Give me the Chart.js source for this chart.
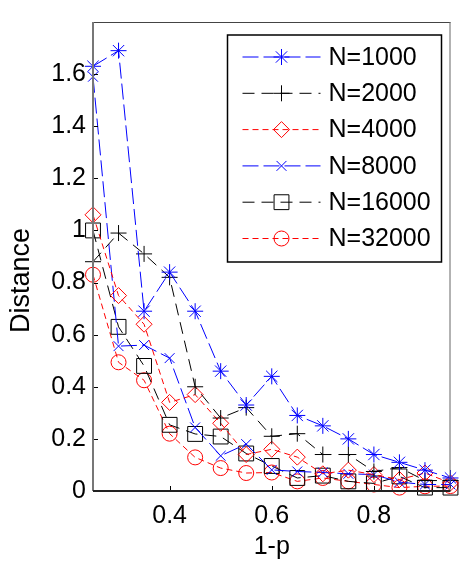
<!DOCTYPE html>
<html><head><meta charset="utf-8">
<script src="https://cdn.jsdelivr.net/npm/chart.js@4/dist/chart.umd.min.js"></script>
<style>html,body{margin:0;padding:0;background:#fff;}canvas{display:block;}</style>
</head><body>
<canvas id="c" width="462" height="568"></canvas>
<script>
// ---- data ----
const xValues = [0.25,0.30,0.35,0.40,0.45,0.50,0.55,0.60,0.65,0.70,0.75,0.80,0.85,0.90,0.95];
const seriesNames = ['N=1000','N=2000','N=4000','N=8000','N=16000','N=32000'];
const n1000  = [1.63,1.69,0.69,0.84,0.69,0.46,0.33,0.44,0.29,0.25,0.20,0.14,0.11,0.08,0.05];
const n2000  = [0.88,0.99,0.91,0.82,0.40,0.28,0.32,0.21,0.22,0.14,0.14,0.075,0.09,0.04,0.04];
const n4000  = [1.06,0.75,0.64,0.34,0.37,0.26,0.14,0.16,0.13,0.066,0.08,0.063,0.044,0.069,0.031];
const n8000  = [1.59,0.556,0.56,0.51,0.244,0.135,0.18,0.081,0.075,0.071,0.066,0.063,0.034,0.025,0.025];
const n16000 = [1.00,0.63,0.48,0.254,0.219,0.209,0.144,0.096,0.05,0.059,0.037,0.029,0.056,0.013,0.013];
const n32000 = [0.83,0.494,0.425,0.22,0.129,0.088,0.069,0.071,0.037,0.05,0.037,0.025,0.013,0.018,0.019];
const xTickValues = [0.4,0.6,0.8];
const yTickValues = [0,0.2,0.4,0.6,0.8,1.0,1.2,1.4,1.6];
const xTitle = '1-p';
const yTitle = 'Distance';

const FONT = '"Liberation Sans", Arial, Helvetica, sans-serif';
const toPts = arr => arr.map((v,i)=>({x:xValues[i], y:v}));

const styles = [
  {color:'#0000ff', dash:[16,5], point:'star',     radius:8},
  {color:'#000000', dash:[12,7], point:'cross',    radius:8},
  {color:'#ff0000', dash:[6,4],  point:'rectRot',  radius:8},
  {color:'#0000ff', dash:[16,5], point:'crossRot', radius:7},
  {color:'#000000', dash:[12,7], point:'rect',     radius:10.5},
  {color:'#ff0000', dash:[6,4],  point:'circle',   radius:7.5}
];
const allSeries = [n1000,n2000,n4000,n8000,n16000,n32000];

const datasets = allSeries.map((s,i)=>({
  label: seriesNames[i],
  data: toPts(s),
  borderColor: styles[i].color,
  borderWidth: 1,
  borderDash: styles[i].dash,
  pointStyle: styles[i].point,
  pointRadius: styles[i].radius,
  pointHoverRadius: styles[i].radius,
  pointBorderColor: styles[i].color,
  pointBackgroundColor: 'rgba(0,0,0,0)',
  pointBorderWidth: 1,
  fill: false,
  tension: 0,
  clip: false
}));

function drawMarker(ctx, style, radius, x, y){
  if (Chart.helpers && Chart.helpers.drawPoint) {
    Chart.helpers.drawPoint(ctx, {pointStyle: style, radius: radius, borderWidth: 1, rotation: 0}, x, y);
  }
}

const framePlugin = {
  id: 'frame',
  afterDatasetsDraw(chart){
    const {ctx, chartArea:a, scales} = chart;
    ctx.save();
    ctx.setLineDash([]);
    // inward ticks
    ctx.strokeStyle = '#000'; ctx.lineWidth = 1;
    xTickValues.forEach(v=>{
      const px = Math.round(scales.x.getPixelForValue(v))+0.5;
      ctx.beginPath(); ctx.moveTo(px, a.bottom); ctx.lineTo(px, a.bottom-5); ctx.stroke();
    });
    yTickValues.forEach(v=>{
      const py = Math.round(scales.y.getPixelForValue(v))+0.5;
      ctx.beginPath(); ctx.moveTo(a.left, py); ctx.lineTo(a.left+5, py); ctx.stroke();
    });
    // box
    ctx.lineWidth = 1;
    ctx.strokeStyle = '#444';
    ctx.beginPath(); ctx.moveTo(a.left, a.top+0.5); ctx.lineTo(a.right, a.top+0.5); ctx.stroke();
    ctx.strokeStyle = '#666';
    ctx.beginPath(); ctx.moveTo(a.right-0.5, a.top); ctx.lineTo(a.right-0.5, a.bottom); ctx.stroke();
    ctx.lineWidth = 2;
    ctx.strokeStyle = '#777';
    ctx.beginPath(); ctx.moveTo(a.left, a.top); ctx.lineTo(a.left, a.bottom); ctx.stroke();
    ctx.strokeStyle = '#222';
    ctx.beginPath(); ctx.moveTo(a.left, a.bottom); ctx.lineTo(a.right, a.bottom); ctx.stroke();

    // y axis title (MATLAB places it slightly below the centre)
    ctx.save();
    ctx.fillStyle = '#000';
    ctx.font = '27px ' + FONT;
    ctx.textAlign = 'center';
    ctx.textBaseline = 'middle';
    ctx.translate(22, a.top + (a.bottom - a.top)/2 + 24);
    ctx.rotate(-Math.PI/2);
    ctx.fillText(yTitle, 0, 0);
    ctx.restore();

    // legend box
    const bx0 = a.right - 223, by0 = a.top + 13, bx1 = a.right - 9, by1 = a.top + 240;
    ctx.fillStyle = '#fff';
    ctx.fillRect(bx0, by0, bx1-bx0, by1-by0);
    ctx.strokeStyle = '#000'; ctx.lineWidth = 1.5;
    ctx.strokeRect(bx0, by0, bx1-bx0, by1-by0);
    ctx.font = '25px ' + FONT;
    ctx.textBaseline = 'middle';
    ctx.textAlign = 'left';
    chart.data.datasets.forEach((ds,i)=>{
      const y = by0 + 22 + i*36.3;
      const lx0 = bx0 + 15, lx1 = bx0 + 93, mx = bx0 + 54;
      ctx.save();
      ctx.strokeStyle = ds.borderColor; ctx.lineWidth = 1;
      ctx.setLineDash(ds.borderDash);
      ctx.beginPath(); ctx.moveTo(lx0, y); ctx.lineTo(lx1, y); ctx.stroke();
      ctx.setLineDash([]);
      ctx.strokeStyle = ds.borderColor; ctx.fillStyle = 'rgba(0,0,0,0)';
      drawMarker(ctx, ds.pointStyle, ds.pointRadius, mx, y);
      ctx.restore();
      ctx.fillStyle = '#000';
      ctx.fillText(ds.label, bx0 + 101, y + 1);
    });
    ctx.restore();
  }
};

const fmt = v => String(Math.round(v*10)/10);

new Chart(document.getElementById('c'), {
  type: 'line',
  data: { datasets },
  options: {
    responsive: false,
    animation: false,
    events: [],
    layout: { padding: { top: 10, right: 5, left: 0, bottom: 0 } },
    plugins: { legend: {display:false}, tooltip: {enabled:false} },
    scales: {
      x: {
        type: 'linear', min: 0.25, max: 0.95,
        afterBuildTicks: s => { s.ticks = xTickValues.map(v=>({value:v})); },
        afterFit: s => { s.height = 77; },
        grid: { display: false, drawTicks: false },
        border: { display: false },
        ticks: { color:'#000', font:{family:FONT, size:25}, padding: 10, callback: fmt, maxRotation:0 },
        title: { display:true, text:xTitle, color:'#000', font:{family:FONT, size:25}, padding:{top:0,bottom:6} }
      },
      y: {
        type: 'linear', min: 0, max: 1.8,
        afterBuildTicks: s => { s.ticks = yTickValues.map(v=>({value:v})); },
        afterFit: s => { s.width = 93; },
        grid: { display: false, drawTicks: false },
        border: { display: false },
        ticks: { color:'#000', font:{family:FONT, size:25}, padding: 7, callback: fmt },
        title: { display:false }
      }
    }
  },
  plugins: [framePlugin]
});
</script>
</body></html>
